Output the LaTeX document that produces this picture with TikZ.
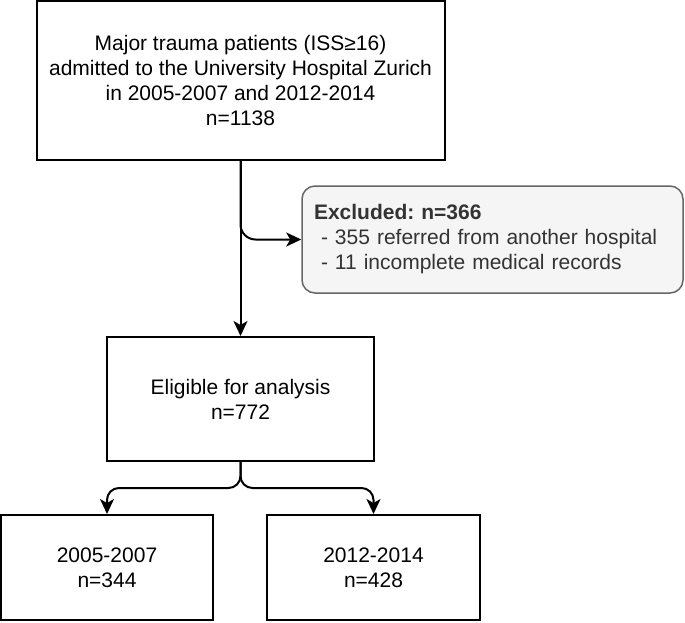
\documentclass[tikz,border=0pt]{standalone}
\usepackage{fontspec}
\setmainfont{Liberation Sans}
\usepackage{tikz}
\usetikzlibrary{positioning,arrows.meta,calc}
\definecolor{exclfill}{HTML}{F5F5F5}
\definecolor{exclline}{HTML}{666666}
\definecolor{excltext}{HTML}{333333}
\frenchspacing

\begin{document}
\begin{tikzpicture}[x=0.5pt, y=-0.5pt,
    font=\fontsize{10.5}{12.5}\selectfont,
    box/.style={draw, line width=1pt, align=center, inner sep=0pt},
    arr/.style={line width=1pt, -{Stealth[length=7.5pt, width=7pt, inset=2pt]}}]
    \useasboundingbox (0, 0) rectangle (685, 622);
    % ALL PATIENTS
    \node[box, minimum width=204pt, minimum height=79.5pt] (ALL) at (240.5, 80.5) {Major trauma patients (ISS≥16)\\admitted to the University Hospital Zurich\\in 2005-2007 and 2012-2014\\n=1138};
    % EXCLUDED
    \node[draw=exclline, fill=exclfill, line width=0.75pt, rounded corners=6.5pt, text=excltext, align=left, text width=178.5pt, inner xsep=6pt, inner ysep=0pt, minimum height=53.5pt] (EXCL) at (492.5, 239.5) {\textbf{Excluded: n=366}\\~- 355 referred from another hospital\\~- 11 incomplete medical records};
    % ELIGIBLE
    \node[box, minimum width=133.5pt, minimum height=62pt] (ELIG) at (240.5, 399) {Eligible for analysis\\n=772};
    % PERIODS
    \node[box, minimum width=106pt, minimum height=52.5pt] (P05) at (107, 567.5) {2005-2007\\n=344};
    \node[box, minimum width=106.5pt, minimum height=52.5pt] (P12) at (373.5, 567.5) {2012-2014\\n=428};
    % CONNECTORS
    \draw[arr] (ALL.south) -- (ELIG.north);
    \draw[arr, rounded corners=7.5pt] (ALL.south) |- (EXCL.west);
    \draw[arr, rounded corners=6pt] (ELIG.south) -- ++(0, 26) -| (P05.north);
    \draw[arr, rounded corners=6pt] (ELIG.south) -- ++(0, 26) -| (P12.north);
\end{tikzpicture}
\end{document}
